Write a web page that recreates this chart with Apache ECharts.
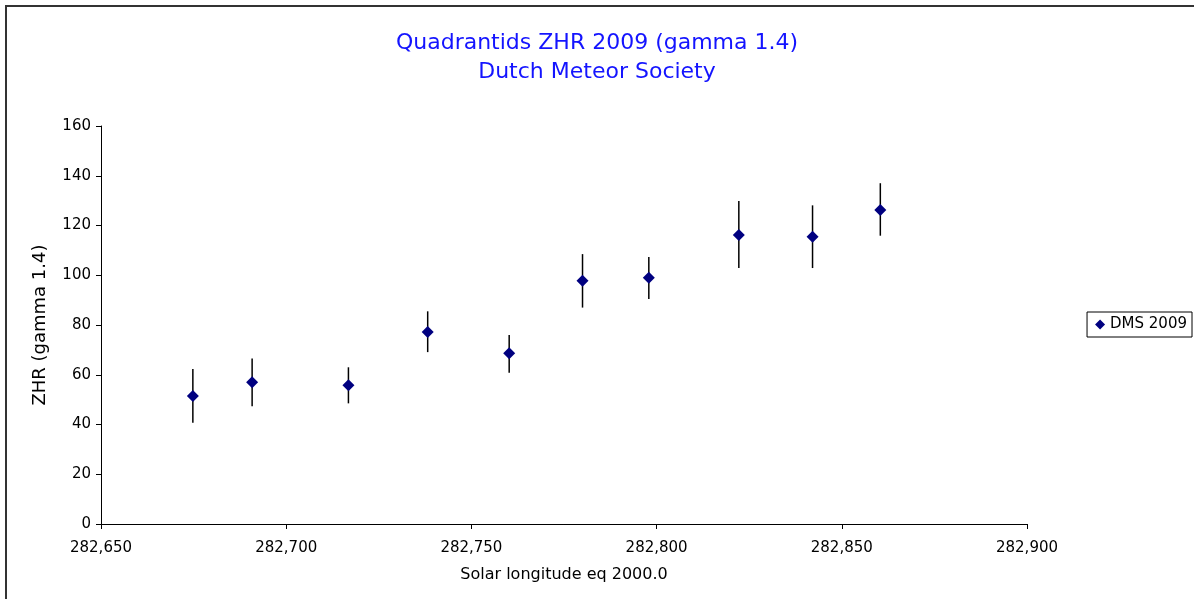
<!DOCTYPE html>
<html>
<head>
<meta charset="utf-8">
<script src="https://cdn.jsdelivr.net/npm/echarts@6/dist/echarts.min.js"></script>
<style>
  html, body { margin: 0; padding: 0; background: #fff; }
  #chart { width: 1194px; height: 599px; }
</style>
</head>
<body>
<div id="chart"></div>
<script>
// solar longitude (eq 2000.0) and ZHR with error bar ends
const solarLong = [282674.8, 282690.8, 282716.8, 282738.2, 282760.2, 282780.0, 282797.9, 282822.2, 282842.1, 282860.4];
const zhr       = [51.5, 57.0, 55.8, 77.2, 68.6, 97.8, 99.0, 116.2, 115.5, 126.2];
const zhrLow    = [40.7, 47.3, 48.5, 69.1, 60.8, 87.0, 90.5, 102.9, 102.9, 115.9];
const zhrHigh   = [62.3, 66.5, 63.0, 85.5, 76.0, 108.5, 107.3, 129.8, 128.1, 137.0];

const font = 'Verdana, "DejaVu Sans", sans-serif';

const chart = echarts.init(document.getElementById('chart'));

const errData = solarLong.map((x, i) => [x, zhrLow[i], zhrHigh[i]]);
const pointData = solarLong.map((x, i) => [x, zhr[i]]);

const options = {
    backgroundColor: '#fff',
    animation: false,
    title: {
        text: 'Quadrantids ZHR 2009 (gamma 1.4)\nDutch Meteor Society',
        left: 'center',
        top: 24,
        textStyle: {
            color: '#1414ff',
            fontFamily: font,
            fontWeight: 'normal',
            fontSize: 22,
            lineHeight: 29
        }
    },
    legend: {
        right: 2,
        top: 312,
        orient: 'vertical',
        data: [{ name: 'DMS 2009', icon: 'diamond' }],
        itemWidth: 10,
        itemHeight: 10,
        itemGap: 4,
        padding: [5, 5, 5, 8],
        borderColor: '#000',
        borderWidth: 1,
        borderRadius: 0,
        textStyle: { color: '#000', fontFamily: font, fontSize: 15, padding: [0, 0, 0, 0] }
    },
    grid: {
        left: 101,
        right: 167,
        top: 126,
        bottom: 75
    },
    xAxis: {
        type: 'value',
        min: 282650,
        max: 282900,
        interval: 50,
        name: 'Solar longitude eq 2000.0',
        nameLocation: 'middle',
        nameGap: 43,
        nameTextStyle: { color: '#000', fontFamily: font, fontSize: 16 },
        axisLine: { show: true, lineStyle: { color: '#000', width: 1 } },
        axisTick: { show: true, length: 5, lineStyle: { color: '#000' } },
        axisLabel: {
            color: '#000',
            fontFamily: font,
            fontSize: 15,
            margin: 17,
            formatter: v => v.toLocaleString('en-US')
        },
        splitLine: { show: false }
    },
    yAxis: {
        type: 'value',
        min: 0,
        max: 160,
        interval: 20,
        name: 'ZHR (gamma 1.4)',
        nameLocation: 'middle',
        nameGap: 52,
        nameTextStyle: { color: '#000', fontFamily: font, fontSize: 18 },
        axisLine: { show: true, lineStyle: { color: '#000', width: 1 } },
        axisTick: { show: true, length: 5, lineStyle: { color: '#000' } },
        axisLabel: { color: '#000', fontFamily: font, fontSize: 15, margin: 10 },
        splitLine: { show: false }
    },
    graphic: [{
        type: 'rect',
        shape: { x: 6, y: 6, width: 1300, height: 700 },
        style: { fill: 'none', stroke: '#333', lineWidth: 2 },
        silent: true,
        z: 100
    }],
    series: [
        {
            type: 'custom',
            name: 'err',
            data: errData,
            renderItem: function (params, api) {
                const top = api.coord([api.value(0), api.value(2)]);
                const bot = api.coord([api.value(0), api.value(1)]);
                return {
                    type: 'line',
                    shape: { x1: top[0], y1: top[1], x2: bot[0], y2: bot[1] },
                    style: { stroke: '#000', lineWidth: 1.5 }
                };
            },
            z: 1
        },
        {
            type: 'scatter',
            name: 'DMS 2009',
            data: pointData,
            symbol: 'diamond',
            symbolSize: 12,
            itemStyle: { color: '#000080', opacity: 1 },
            z: 3
        }
    ]
};

chart.setOption(options);
</script>
</body>
</html>
